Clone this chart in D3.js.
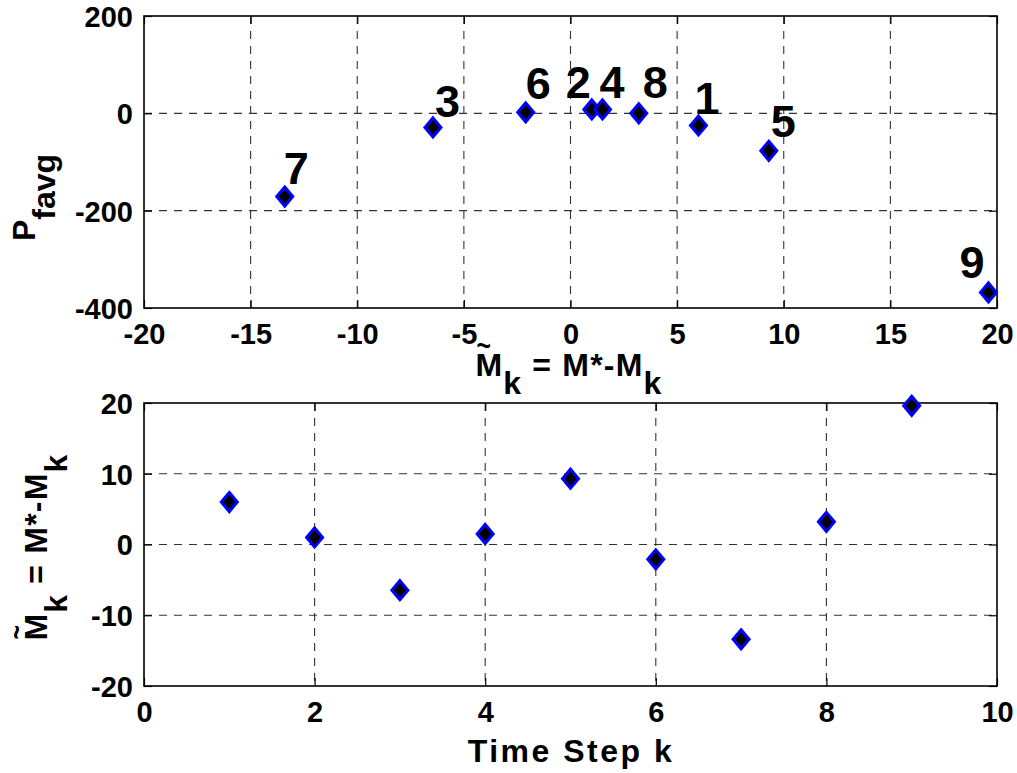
<!DOCTYPE html>
<html><head><meta charset="utf-8">
<script src="https://cdn.jsdelivr.net/npm/d3@7"></script>
<style>
body{margin:0;background:#fff}
text{font-family:"Liberation Sans",Arial,Helvetica,sans-serif;font-weight:bold;fill:#000}
</style>
</head><body>
<svg id="chart" width="1017" height="773"></svg>
<script>
// ---------- data ----------
const steps = [1, 2, 3, 4, 5, 6, 7, 8, 9];
const mTilde = [6.0, 1.0, -6.45, 1.5, 9.3, -2.1, -13.4, 3.2, 19.6];
const pFavg = [-25, 8, -29, 8, -77, 2, -171, 0, -368];
const pointLabels = ["1", "2", "3", "4", "5", "6", "7", "8", "9"];
const topXTicks = [-20, -15, -10, -5, 0, 5, 10, 15, 20];
const topYTicks = [-400, -200, 0, 200];
const botXTicks = [0, 2, 4, 6, 8, 10];
const botYTicks = [-20, -10, 0, 10, 20];

// label nudges in pixels (layout only)
const labelNudge = [[-4,-12],[-26,-11],[2,-10],[-3,-11],[2,-14],[0,-13],[-1,-13],[4,-15],[-29,-14]];

const svg = d3.select("#chart");
const L = 144, R = 997;
const TICK_FS = 29, LAB_FS = 32;
const fmt = d => String(d);

function panel(y0, y1, xDomain, yDomain, xTicks, yTicks) {
  const x = d3.scaleLinear().domain(xDomain).range([L, R]);
  const y = d3.scaleLinear().domain(yDomain).range([y1, y0]);
  const g = svg.append("g");
  g.selectAll(".gx").data(xTicks.filter(t => t !== xDomain[0] && t !== xDomain[1])).enter()
    .append("line").attr("x1", d => x(d)).attr("x2", d => x(d)).attr("y1", y0).attr("y2", y1)
    .attr("stroke", "#333").attr("stroke-width", 1.1).attr("stroke-dasharray", "8,7");
  g.selectAll(".gy").data(yTicks.filter(t => t !== yDomain[0] && t !== yDomain[1])).enter()
    .append("line").attr("y1", d => y(d)).attr("y2", d => y(d)).attr("x1", L).attr("x2", R)
    .attr("stroke", "#333").attr("stroke-width", 1.1).attr("stroke-dasharray", "8,7");
  const ax = g.append("g").attr("transform", `translate(0,${y1})`)
    .call(d3.axisBottom(x).tickValues(xTicks).tickFormat(fmt).tickSizeInner(-8).tickSizeOuter(0).tickPadding(15));
  const axT = g.append("g").attr("transform", `translate(0,${y0})`)
    .call(d3.axisTop(x).tickValues(xTicks).tickSizeInner(-8).tickSizeOuter(0).tickFormat(""));
  const ay = g.append("g").attr("transform", `translate(${L},0)`)
    .call(d3.axisLeft(y).tickValues(yTicks).tickFormat(fmt).tickSizeInner(-8).tickSizeOuter(0).tickPadding(11));
  const ayR = g.append("g").attr("transform", `translate(${R},0)`)
    .call(d3.axisRight(y).tickValues(yTicks).tickSizeInner(-8).tickSizeOuter(0).tickFormat(""));
  [ax, axT, ay, ayR].forEach(a => {
    a.select(".domain").remove();
    a.selectAll("line").attr("stroke", "#000").attr("stroke-width", 1.2);
    a.selectAll("text").style("font-size", TICK_FS + "px").style("font-family", '"Liberation Sans",Arial,sans-serif').style("font-weight", "bold").attr("fill", "#000");
  });
  ax.selectAll("text").attr("dy", "0.71em");
  ay.selectAll("text").attr("dy", "0.36em");
  g.append("rect").attr("x", L).attr("y", y0).attr("width", R - L).attr("height", y1 - y0)
    .attr("fill", "none").attr("stroke", "#000").attr("stroke-width", 1.6);
  return { x, y, g };
}

function diamond(g, px, py) {
  const w = 8, h = 9.5;
  g.append("path")
    .attr("d", `M${px},${py - h}L${px + w},${py}L${px},${py + h}L${px - w},${py}Z`)
    .attr("fill", "#000").attr("stroke", "#0000ff").attr("stroke-width", 3);
}

function mathLabel(parent, parts, fs, subShift, spacing) {
  const t = parent.append("text").style("font-size", fs + "px").style("letter-spacing", spacing + "px");
  let lowered = false;
  parts.forEach(p => {
    const ts = t.append("tspan").text(p.t);
    if (p.sub && !lowered) { ts.attr("dy", subShift); lowered = true; }
    else if (!p.sub && lowered) { ts.attr("dy", -subShift); lowered = false; }
  });
  return t;
}

function mkLabel(transform, subShift) {
  const g = svg.append("g").attr("transform", transform);
  const t = mathLabel(g, [{t:"M"},{t:"k",sub:true},{t:" = M*-M"},{t:"k",sub:true}], LAB_FS, subShift, 1.2);
  const w = t.node().getComputedTextLength();
  t.attr("x", -w / 2);
  const sx = t.node().getStartPositionOfChar(0).x;
  g.append("text").style("font-size", "29px")
    .attr("transform", `translate(${sx + 1},-20) scale(0.85,1)`).text("~");
}

// ---------- top panel ----------
const topP = panel(16, 308, [-20, 20], [-400, 200], topXTicks, topYTicks);
steps.forEach((s, i) => diamond(topP.g, topP.x(mTilde[i]), topP.y(pFavg[i])));
steps.forEach((s, i) => {
  topP.g.append("text").style("font-size", "45px")
    .attr("x", topP.x(mTilde[i]) + labelNudge[i][0])
    .attr("y", topP.y(pFavg[i]) + labelNudge[i][1])
    .text(pointLabels[i]);
});
mkLabel("translate(569,376)", 18);
{
  const g = svg.append("g").attr("transform", "translate(35,241) rotate(-90)");
  mathLabel(g, [{t:"P"},{t:"favg",sub:true}], LAB_FS, 20, 0);
}

// ---------- bottom panel ----------
const botP = panel(403, 686, [0, 10], [-20, 20], botXTicks, botYTicks);
steps.forEach((s, i) => diamond(botP.g, botP.x(s), botP.y(mTilde[i])));
mkLabel("translate(47,547) rotate(-90)", 20);
svg.append("text").style("font-size", LAB_FS + "px").style("letter-spacing", "2.5px")
  .attr("x", 571).attr("y", 762).attr("text-anchor", "middle").text("Time Step k");
</script>
</body></html>
